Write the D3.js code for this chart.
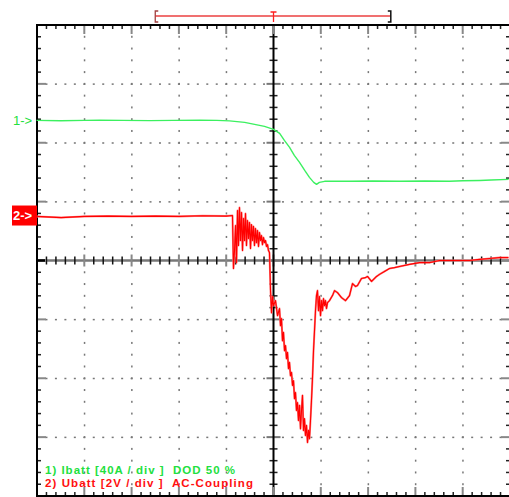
<!DOCTYPE html>
<html><head><meta charset="utf-8">
<script src="https://cdn.jsdelivr.net/npm/d3@7"></script>
<style>html,body{margin:0;padding:0;background:#fff;overflow:hidden}svg{display:block}</style>
</head><body>
<svg id="c" width="509" height="497"></svg>
<script>
// ---- channel settings ----
const ch1Label = "1) Ibatt [40A / div ]  DOD 50 %";
const ch2Label = "2) Ubatt [2V / div ]  AC-Coupling";
const ch1PerDiv = 40;   // A / div
const ch2PerDiv = 2;    // V / div
const ch1RefDiv = 2.38; // marker "1->" position in divisions above centre
const ch2RefDiv = 0.764;// marker "2->" position
// ---- trace 1 : Ibatt (A), time in divisions ----
const ch1Time = [-5.01,-4.5,-4.0,-3.68,-3.2,-2.62,-2.1,-1.56,-1.2,-0.93,-0.61,-0.40,-0.19,0,0.13,0.23,0.34,0.44,0.55,0.66,0.76,0.85,0.91,0.97,1.08,1.61,2.1,2.66,3.2,3.72,4.0,4.36,4.6,4.97];
const ch1Value = [0,-0.3,0,0.2,0,-0.2,0,0.1,0,-0.34,-1.36,-2.72,-4.08,-6.11,-8.83,-13.6,-18.3,-23.8,-28.5,-34.0,-38.7,-42.1,-43.5,-42.1,-41.4,-41.4,-41.2,-41.4,-41.2,-41.4,-41.0,-40.8,-40.5,-40.1];
// ---- trace 2 : Ubatt (V, AC), time in divisions ----
const ch2Time = [-5.01,-4.49,-4.0,-3.5,-3.0,-2.5,-2.0,-1.5,-1.0,-0.867,-0.846,-0.824,-0.803,-0.782,-0.761,-0.740,-0.719,-0.698,-0.676,-0.655,-0.634,-0.613,-0.592,-0.571,-0.550,-0.528,-0.507,-0.486,-0.465,-0.444,-0.423,-0.402,-0.381,-0.359,-0.338,-0.317,-0.296,-0.275,-0.254,-0.233,-0.211,-0.190,-0.169,-0.148,-0.127,-0.106,-0.085,-0.063,-0.042,-0.021,0,0.042,0.085,0.127,0.148,0.169,0.190,0.211,0.233,0.254,0.275,0.296,0.317,0.338,0.359,0.381,0.402,0.423,0.444,0.465,0.486,0.507,0.528,0.550,0.571,0.592,0.613,0.634,0.655,0.676,0.698,0.719,0.740,0.761,0.782,0.803,0.824,0.846,0.867,0.888,0.909,0.930,0.951,0.972,0.994,1.015,1.036,1.057,1.078,1.099,1.120,1.142,1.184,1.247,1.290,1.353,1.438,1.522,1.607,1.670,1.733,1.776,1.860,1.945,1.987,2.072,2.178,2.241,2.347,2.452,2.558,2.664,2.875,3.087,3.298,3.510,3.721,3.932,4.144,4.355,4.567,4.778,4.968];
const ch2Value = [-0.03,-0.07,-0.03,-0.02,-0.03,-0.02,-0.03,-0.01,-0.02,0,-1.80,-1.19,-0.34,-1.60,0.17,-1.02,0.27,-0.85,0.10,-1.19,-0.10,-0.85,0.07,-1.02,-0.17,-0.78,-0.24,-1.12,-0.31,-0.85,-0.37,-1.02,-0.44,-0.92,-0.51,-1.05,-0.58,-0.85,-0.68,-0.99,-0.75,-0.92,-0.85,-1.05,-0.99,-1.19,-1.26,-2.55,-3.30,-2.75,-3.06,-2.89,-3.40,-3.16,-3.74,-3.50,-4.25,-3.97,-4.59,-4.42,-4.86,-4.65,-5.20,-4.99,-5.44,-5.33,-5.77,-5.61,-6.22,-6.01,-6.62,-6.35,-6.96,-6.45,-7.24,-6.62,-6.11,-7.30,-6.90,-7.47,-7.13,-7.71,-7.30,-7.58,-6.96,-6.28,-5.54,-4.59,-3.91,-3.23,-2.72,-2.55,-3.23,-2.75,-3.40,-2.89,-3.23,-2.82,-3.06,-2.89,-3.16,-2.96,-2.89,-2.72,-2.55,-2.62,-2.79,-2.89,-2.72,-2.31,-2.41,-2.38,-2.14,-2.11,-2.07,-2.24,-2.07,-2.00,-1.90,-1.80,-1.77,-1.73,-1.66,-1.60,-1.60,-1.53,-1.53,-1.53,-1.53,-1.49,-1.46,-1.43,-1.43];
// ---- cursor bar (divisions) ----
const cursorStart = -2.5, cursorEnd = 2.48, triggerPos = 0;

const svg = d3.select("#c");
const x = d3.scaleLinear().domain([-5,5]).range([37,510]);
const y = d3.scaleLinear().domain([-4,4]).range([496,25]);
const minorX = d3.range(-5,5.0001,0.2).map(v=>+v.toFixed(2));
const minorY = d3.range(-4,4.0001,0.2).map(v=>+v.toFixed(2));
const majorX = d3.range(-4,5,1), majorY = d3.range(-3,4,1);
const isMaj = v => Math.abs(v-Math.round(v))<1e-6;

const g = svg.append("g");
// dotted grid
majorX.filter(v=>v!==0).forEach(mx=>{
  minorY.forEach(my=>{ g.append("rect").attr("x",x(mx)-0.5).attr("y",y(my)-1).attr("width",1.5).attr("height",2).attr("fill","#777"); });
});
majorY.filter(v=>v!==0).forEach(my=>{
  minorX.forEach(mx=>{ g.append("rect").attr("x",x(mx)-1).attr("y",y(my)-0.5).attr("width",2).attr("height",1.5).attr("fill","#777"); });
});
// centre horizontal line
g.append("line").attr("x1",x(-5)).attr("x2",x(5)).attr("y1",y(0)).attr("y2",y(0)).attr("stroke","#777").attr("stroke-width",2.5);
minorX.forEach(mx=>{
  const m = isMaj(mx);
  g.append("line").attr("x1",x(mx)).attr("x2",x(mx)).attr("y1",y(0)-(m?6:4)).attr("y2",y(0)+(m?6:4))
   .attr("stroke",m?"#888":"#111").attr("stroke-width",m?2:1.5);
});
// centre vertical line
minorY.forEach(my=>{
  const m = isMaj(my);
  g.append("line").attr("x1",x(0)-(m?7:4)).attr("x2",x(0)+(m?7:4)).attr("y1",y(my)).attr("y2",y(my))
   .attr("stroke",m?"#777":"#222").attr("stroke-width",m?2:1.5);
});
g.append("line").attr("x1",x(0)).attr("x2",x(0)).attr("y1",y(4)).attr("y2",y(-4)).attr("stroke","#000").attr("stroke-width",2);
// border ticks
minorX.forEach(mx=>{
  const m = isMaj(mx);
  g.append("line").attr("x1",x(mx)).attr("x2",x(mx)).attr("y1",y(4)).attr("y2",y(4)+(m?9:4)).attr("stroke",m?"#888":"#222").attr("stroke-width",m?2:1.5);
  g.append("line").attr("x1",x(mx)).attr("x2",x(mx)).attr("y1",y(-4)).attr("y2",y(-4)-(m?9:4)).attr("stroke",m?"#888":"#222").attr("stroke-width",m?2:1.5);
});
minorY.forEach(my=>{
  const m = isMaj(my);
  g.append("line").attr("x1",x(-5)).attr("x2",x(-5)+(m?9:4)).attr("y1",y(my)).attr("y2",y(my)).attr("stroke",m?"#888":"#222").attr("stroke-width",m?2:1.5);
  g.append("line").attr("x1",x(5)).attr("x2",x(5)-(m?9:4)).attr("y1",y(my)).attr("y2",y(my)).attr("stroke",m?"#888":"#222").attr("stroke-width",m?2:1.5);
});
g.append("line").attr("x1",x(-5)).attr("x2",x(-5)+8).attr("y1",y(0)).attr("y2",y(0)).attr("stroke","#000").attr("stroke-width",2.5);
// border
g.append("rect").attr("x",x(-5)).attr("y",y(4)).attr("width",x(5)-x(-5)).attr("height",y(-4)-y(4)).attr("fill","none").attr("stroke","#000").attr("stroke-width",2);

// traces
const line = d3.line().x(d=>x(d[0])).y(d=>y(d[1]));
const d1 = ch1Time.map((t,i)=>[t, ch1RefDiv + ch1Value[i]/ch1PerDiv]);
const d2 = ch2Time.map((t,i)=>[t, ch2RefDiv + ch2Value[i]/ch2PerDiv]);
svg.append("path").attr("d",line(d2)).attr("fill","none").attr("stroke","#ff8080").attr("stroke-width",2).attr("stroke-linejoin","round");
svg.append("path").attr("d",line(d2)).attr("fill","none").attr("stroke","#ff0000").attr("stroke-width",1.1).attr("stroke-linejoin","round");
svg.append("path").attr("d",line(d1)).attr("fill","none").attr("stroke","#3cf060").attr("stroke-width",1.4).attr("stroke-linejoin","round");

// markers
svg.append("text").attr("x",13).attr("y",y(ch1RefDiv)+4.5).attr("fill","#22e040").attr("font-family","Liberation Sans, Arial, sans-serif").attr("font-size",13).text("1->");
svg.append("rect").attr("x",12).attr("y",y(ch2RefDiv)-10).attr("width",25).attr("height",20).attr("fill","#ff0000");
svg.append("text").attr("x",13).attr("y",y(ch2RefDiv)+4.5).attr("fill","#fff").attr("font-family","Liberation Sans, Arial, sans-serif").attr("font-weight","bold").attr("font-size",13).text("2->");

// cursor bar
const cy = 16;
svg.append("line").attr("x1",x(cursorStart)).attr("x2",x(cursorEnd)).attr("y1",cy).attr("y2",cy).attr("stroke","#f07070").attr("stroke-width",2);
svg.append("path").attr("d",`M${x(cursorStart)+3},${cy-5}H${x(cursorStart)}V${cy+6}H${x(cursorStart)+3}`).attr("fill","none").attr("stroke","#a04040").attr("stroke-width",1.3);
svg.append("path").attr("d",`M${x(cursorEnd)-3},${cy-5}H${x(cursorEnd)}V${cy+6}H${x(cursorEnd)-3}`).attr("fill","none").attr("stroke","#111").attr("stroke-width",1.5);
svg.append("path").attr("d",`M${x(triggerPos)-3},${cy-4}H${x(triggerPos)+3}M${x(triggerPos)},${cy-4}V${cy+6}`).attr("fill","none").attr("stroke","#ff2020").attr("stroke-width",1.3);

// legend
svg.append("text").attr("x",45).attr("y",474).attr("fill","#22e040").attr("font-family","Liberation Sans, Arial, sans-serif").attr("font-weight","bold").attr("font-size",11.5)
  .attr("textLength",190).attr("lengthAdjust","spacing").style("white-space","pre").text(ch1Label);
svg.append("text").attr("x",45).attr("y",487).attr("fill","#ff1010").attr("font-family","Liberation Sans, Arial, sans-serif").attr("font-weight","bold").attr("font-size",11.5)
  .attr("textLength",208).attr("lengthAdjust","spacing").style("white-space","pre").text(ch2Label);
</script>
</body></html>
